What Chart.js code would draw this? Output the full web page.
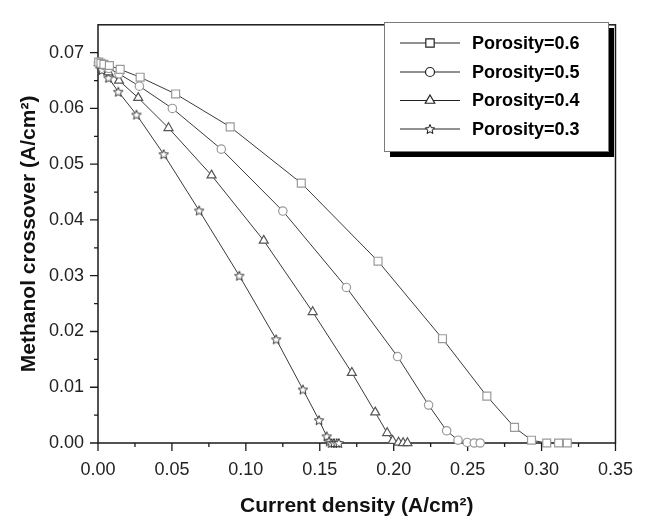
<!DOCTYPE html>
<html>
<head>
<meta charset="utf-8">
<title>Methanol crossover vs current density</title>
<script src="https://cdn.jsdelivr.net/npm/chart.js@4.4.1/dist/chart.umd.min.js"></script>
<style>
  html, body { margin: 0; padding: 0; background: #fff; }
</style>
</head>
<body>
<canvas id="chart" width="649" height="517"></canvas>
<script>
// Current density (A/cm2) and methanol crossover (A/cm2) for each porosity
const currentP06 = [0.0005, 0.002, 0.004, 0.0077, 0.015, 0.0285, 0.0525, 0.0894, 0.1375, 0.1894, 0.233, 0.263, 0.2817, 0.2932, 0.3035, 0.3115, 0.3174]
const crossoverP06 = [0.0683, 0.0681, 0.0679, 0.0677, 0.0670, 0.0656, 0.0626, 0.0567, 0.0466, 0.0326, 0.0187, 0.0084, 0.0028, 0.0005, 0.0, 0.0, 0.0]

const currentP05 = [0.0005, 0.002, 0.004, 0.0072, 0.0142, 0.028, 0.0503, 0.0834, 0.125, 0.168, 0.2026, 0.2236, 0.2358, 0.2435, 0.2497, 0.2545, 0.2585]
const crossoverP05 = [0.0683, 0.0680, 0.0677, 0.0672, 0.0662, 0.0640, 0.0600, 0.0527, 0.0416, 0.0279, 0.0155, 0.0068, 0.0022, 0.0005, 0.0001, 0.0, 0.0]

const currentP04 = [0.0005, 0.002, 0.007, 0.0142, 0.0272, 0.0477, 0.0768, 0.1121, 0.1452, 0.1717, 0.1875, 0.1956, 0.1993, 0.2033, 0.2064, 0.2093]
const crossoverP04 = [0.0682, 0.0678, 0.0665, 0.0650, 0.0619, 0.0565, 0.0480, 0.0363, 0.0235, 0.0126, 0.0055, 0.0018, 0.0004, 0.0001, 0.0, 0.0]

const currentP03 = [0.0005, 0.0026, 0.0071, 0.0137, 0.026, 0.0444, 0.0684, 0.0956, 0.1205, 0.1386, 0.1495, 0.1547, 0.1563, 0.1578, 0.1596, 0.1614, 0.1629]
const crossoverP03 = [0.0681, 0.0669, 0.0655, 0.0630, 0.0589, 0.0518, 0.0417, 0.0300, 0.0186, 0.0096, 0.0041, 0.0012, 0.0003, 0.0, 0.0, 0.0, 0.0]

const porosityLabels = ["Porosity=0.6", "Porosity=0.5", "Porosity=0.4", "Porosity=0.3"]
const xTickValues = [0, 0.05, 0.10, 0.15, 0.20, 0.25, 0.30, 0.35]
const yTickValues = [0, 0.01, 0.02, 0.03, 0.04, 0.05, 0.06, 0.07]

const FONT = "'Liberation Sans', Arial, Helvetica, sans-serif"

// five-pointed hollow star used as a point style
function makeStar(stroke, size) {
  const c = document.createElement("canvas")
  c.width = size
  c.height = size
  const g = c.getContext("2d")
  const cx = size / 2, cy = size / 2 + 0.5
  const ro = size / 2 - 1, ri = ro * 0.45
  g.beginPath()
  for (let i = 0; i < 10; i++) {
    const r = i % 2 ? ri : ro
    const a = -Math.PI / 2 + i * Math.PI / 5
    g.lineTo(cx + r * Math.cos(a), cy + r * Math.sin(a))
  }
  g.closePath()
  g.fillStyle = "#fff"
  g.fill()
  g.strokeStyle = stroke
  g.lineWidth = 1
  g.stroke()
  return c
}

const starPlot = makeStar("#333", 12)
const starLegend = makeStar("#111", 12)

function toPoints(xs, ys) {
  return xs.map((x, i) => ({ x: x, y: ys[i] }))
}

function series(label, xs, ys, style, radius, markColor) {
  return {
    label: label,
    data: toPoints(xs, ys),
    showLine: true,
    borderColor: "#3a3a3a",
    borderWidth: 1,
    pointStyle: style,
    pointRadius: radius,
    pointBorderWidth: 1.2,
    pointBorderColor: markColor,
    pointBackgroundColor: "#fff",
    clip: false,
  }
}

const datasets = [
  series(porosityLabels[0], currentP06, crossoverP06, "rect", 5.6, "#9a9a9a"),
  series(porosityLabels[1], currentP05, crossoverP05, "circle", 4.2, "#9a9a9a"),
  series(porosityLabels[2], currentP04, crossoverP04, "triangle", 5.2, "#555"),
  series(porosityLabels[3], currentP03, crossoverP03, starPlot, 5, "#333"),
]

// frame plus major / minor tick marks pointing outward
const frameAndTicks = {
  id: "frameAndTicks",
  beforeDatasetsDraw(chart) {
    const { ctx, chartArea: a, scales: { x, y } } = chart
    ctx.save()
    ctx.strokeStyle = "#1a1a1a"
    ctx.lineWidth = 1.5
    ctx.strokeRect(a.left, a.top, a.right - a.left, a.bottom - a.top)
    ctx.lineWidth = 1.3
    ctx.beginPath()
    xTickValues.forEach((v, i) => {
      const px = x.getPixelForValue(v)
      ctx.moveTo(px, a.bottom)
      ctx.lineTo(px, a.bottom + 8)
      if (i < xTickValues.length - 1) {
        const mx = x.getPixelForValue(v + 0.025)
        ctx.moveTo(mx, a.bottom)
        ctx.lineTo(mx, a.bottom + 4)
      }
    })
    yTickValues.forEach((v, i) => {
      const py = y.getPixelForValue(v)
      ctx.moveTo(a.left, py)
      ctx.lineTo(a.left - 8, py)
      if (i < yTickValues.length - 1) {
        const my = y.getPixelForValue(v + 0.005)
        ctx.moveTo(a.left, my)
        ctx.lineTo(a.left - 4, my)
      }
    })
    ctx.stroke()
    ctx.restore()
  },
}

// boxed legend with a solid drop shadow in the upper right
const shadowLegend = {
  id: "shadowLegend",
  afterDraw(chart) {
    const ctx = chart.ctx
    const box = { left: 384, top: 22, right: 608, bottom: 151 }
    const rows = [43, 72, 100.5, 129]
    ctx.save()
    ctx.fillStyle = "#000"
    ctx.fillRect(box.left + 6, box.top + 6, box.right - box.left, box.bottom - box.top)
    ctx.fillStyle = "#fff"
    ctx.fillRect(box.left, box.top, box.right - box.left, box.bottom - box.top)
    ctx.strokeStyle = "#7a7a7a"
    ctx.lineWidth = 1
    ctx.strokeRect(box.left + 0.5, box.top + 0.5, box.right - box.left, box.bottom - box.top)

    chart.data.datasets.forEach((ds, i) => {
      const yy = rows[i]
      ctx.strokeStyle = "#222"
      ctx.lineWidth = 1
      ctx.beginPath()
      ctx.moveTo(400, yy)
      ctx.lineTo(460, yy)
      ctx.stroke()
      ctx.fillStyle = "#fff"
      ctx.strokeStyle = "#222"
      ctx.lineWidth = 1.2
      const style = ds.pointStyle === starPlot ? starLegend : ds.pointStyle
      Chart.helpers.drawPoint(ctx, { pointStyle: style, radius: ds.pointRadius + 0.3, rotation: 0, borderWidth: 1.2 }, 430, yy)
      ctx.fillStyle = "#000"
      ctx.font = "bold 18px " + FONT
      ctx.textAlign = "left"
      ctx.textBaseline = "middle"
      ctx.fillText(ds.label, 472, yy + 1)
    })
    ctx.restore()
  },
}

new Chart(document.getElementById("chart"), {
  type: "scatter",
  data: { datasets: datasets },
  options: {
    responsive: false,
    animation: false,
    devicePixelRatio: 1,
    layout: { padding: { top: 9, right: 21, left: 0, bottom: 0 } },
    plugins: {
      legend: { display: false },
      tooltip: { enabled: false },
    },
    scales: {
      x: {
        type: "linear",
        min: 0,
        max: 0.35,
        grid: { display: false, drawTicks: false },
        border: { display: false },
        afterBuildTicks: (axis) => { axis.ticks = xTickValues.map((v) => ({ value: v })) },
        afterFit: (axis) => { axis.height = 74 },
        ticks: {
          padding: 16,
          autoSkip: false,
          maxRotation: 0,
          color: "#222",
          font: { family: FONT, size: 18 },
          callback: (v) => Number(v).toFixed(2),
        },
        title: {
          display: true,
          text: "Current density (A/cm²)",
          color: "#111",
          font: { family: FONT, size: 21, weight: "bold", lineHeight: 1 },
          padding: { top: 0, bottom: 0 },
        },
      },
      y: {
        type: "linear",
        min: 0,
        max: 0.075,
        grid: { display: false, drawTicks: false },
        border: { display: false },
        afterBuildTicks: (axis) => { axis.ticks = yTickValues.map((v) => ({ value: v })) },
        afterFit: (axis) => { axis.width = 98 },
        ticks: {
          padding: 14,
          autoSkip: false,
          color: "#222",
          font: { family: FONT, size: 18 },
          callback: (v) => Number(v).toFixed(2),
        },
        title: {
          display: true,
          text: "Methanol crossover (A/cm²)",
          color: "#111",
          font: { family: FONT, size: 21, weight: "bold", lineHeight: 1 },
          padding: { top: 18.5, bottom: 0 },
        },
      },
    },
  },
  plugins: [frameAndTicks, shadowLegend],
})
</script>
</body>
</html>
